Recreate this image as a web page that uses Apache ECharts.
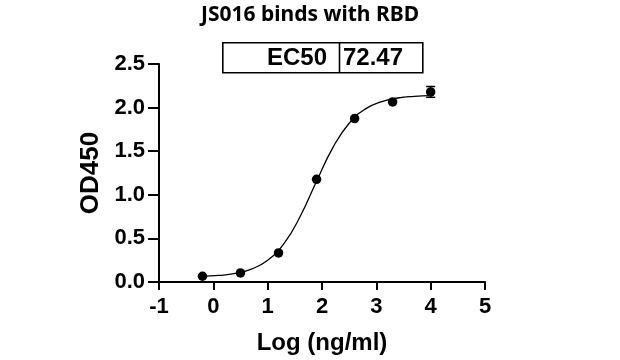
<!DOCTYPE html>
<html>
<head>
<meta charset="utf-8">
<script src="https://cdn.jsdelivr.net/npm/echarts@6/dist/echarts.min.js"></script>
<style>html,body{margin:0;padding:0;background:#fff;}#c{width:620px;height:360px;}</style>
</head>
<body>
<div id="c"></div>
<script>
var titleText = 'JS016 binds with RBD';
var xAxisName = 'Log (ng/ml)';
var yAxisName = 'OD450';
var ec50Label = 'EC50';
var ec50Value = '72.47';
var logConc = [-0.2, 0.5, 1.2, 1.9, 2.6, 3.3, 4.0];
var od450 = [0.066, 0.104, 0.333, 1.177, 1.874, 2.065, 2.18];
var od450Err = [0, 0, 0, 0, 0, 0, 0.062];
// fitted curve at evenly spaced x
var fitX = [-0.2, 0.1, 0.4, 0.7, 1.0, 1.3, 1.6, 1.9, 2.2, 2.5, 2.8, 3.1, 3.4, 3.7, 4.0];
var fitY = [0.064, 0.075, 0.098, 0.148, 0.249, 0.441, 0.754, 1.156, 1.541, 1.821, 1.985, 2.069, 2.11, 2.129, 2.138];
var xTicks = [-1, 0, 1, 2, 3, 4, 5];
var yTicks = [0, 0.5, 1.0, 1.5, 2.0, 2.5];

var pts = logConc.map(function (x, i) { return [x, od450[i]]; });
var fit = fitX.map(function (x, i) { return [x, fitY[i]]; });
var errData = logConc.map(function (x, i) { return [x, od450[i] - od450Err[i], od450[i] + od450Err[i]]; })
  .filter(function (d, i) { return od450Err[i] > 0; });

var axisFont = 'Liberation Sans, Arial, sans-serif';
var chart = echarts.init(document.getElementById('c'), null, { renderer: 'canvas' });
chart.setOption({
  animation: false,
  backgroundColor: '#fff',
  title: {
    text: titleText, left: 'center', top: 0,
    textStyle: { fontFamily: 'Noto Sans', fontWeight: 'bold', fontSize: 21, color: '#000' }
  },
  grid: { left: 159, right: 135, top: 64, bottom: 78 },
  xAxis: {
    type: 'value', min: xTicks[0], max: xTicks[xTicks.length - 1], interval: 1,
    name: xAxisName, nameLocation: 'middle', nameGap: 49,
    nameTextStyle: { fontFamily: axisFont, fontWeight: 'bold', fontSize: 24, color: '#000' },
    axisLine: { onZero: false, lineStyle: { color: '#000', width: 2 } },
    axisTick: { length: 8, lineStyle: { color: '#000', width: 2 } },
    axisLabel: { fontFamily: axisFont, fontWeight: 'bold', fontSize: 22, color: '#000', margin: 14 },
    splitLine: { show: false }
  },
  yAxis: {
    type: 'value', min: yTicks[0], max: yTicks[yTicks.length - 1], interval: 0.5,
    name: yAxisName, nameLocation: 'middle', nameGap: 52, nameRotate: 90,
    nameTextStyle: { fontFamily: axisFont, fontWeight: 'bold', fontSize: 26, color: '#000' },
    axisLine: { show: true, onZero: false, lineStyle: { color: '#000', width: 2 } },
    axisTick: { show: true, length: 11, lineStyle: { color: '#000', width: 2 } },
    axisLabel: { fontFamily: axisFont, fontWeight: 'bold', fontSize: 22, color: '#000', margin: 14,
      formatter: function (v) { return v.toFixed(1); } },
    splitLine: { show: false }
  },
  graphic: [
    { type: 'rect', left: 222, top: 42, shape: { width: 200, height: 30 },
      style: { fill: '#fff', stroke: '#000', lineWidth: 1.6 } },
    { type: 'line', shape: { x1: 339.5, y1: 42, x2: 339.5, y2: 72 },
      style: { stroke: '#000', lineWidth: 1.6 } },
    { type: 'text', x: 327, y: 58, style: { text: ec50Label, fill: '#000',
      font: 'bold 24px Liberation Sans, Arial, sans-serif', textAlign: 'right', textVerticalAlign: 'middle' } },
    { type: 'text', x: 343, y: 58, style: { text: ec50Value, fill: '#000',
      font: 'bold 24px Liberation Sans, Arial, sans-serif', textAlign: 'left', textVerticalAlign: 'middle' } }
  ],
  series: [
    { type: 'line', data: fit, smooth: 0.5, symbol: 'none',
      lineStyle: { color: '#000', width: 1.3 }, z: 2 },
    { type: 'custom', data: errData, z: 3,
      renderItem: function (params, api) {
        var lo = api.coord([api.value(0), api.value(1)]);
        var hi = api.coord([api.value(0), api.value(2)]);
        var w = 4.5;
        var st = { stroke: '#000', lineWidth: 1.5 };
        return { type: 'group', children: [
          { type: 'line', shape: { x1: lo[0], y1: lo[1], x2: hi[0], y2: hi[1] }, style: st },
          { type: 'line', shape: { x1: lo[0] - w, y1: lo[1], x2: lo[0] + w, y2: lo[1] }, style: st },
          { type: 'line', shape: { x1: hi[0] - w, y1: hi[1], x2: hi[0] + w, y2: hi[1] }, style: st }
        ]};
      }
    },
    { type: 'scatter', data: pts, symbol: 'circle', symbolSize: 9.5,
      itemStyle: { color: '#000', opacity: 1 }, z: 4 }
  ]
});
</script>
</body>
</html>
